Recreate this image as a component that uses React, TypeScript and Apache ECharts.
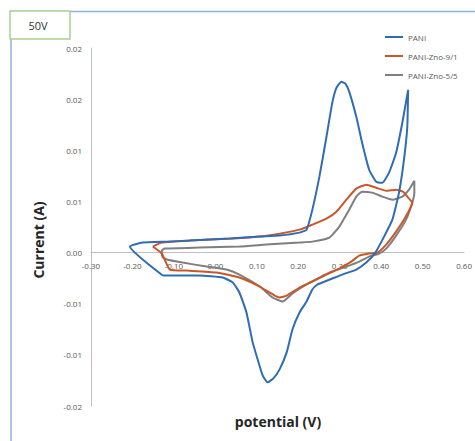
import React, { useEffect, useRef } from "react";
import * as echarts from "echarts";

const seriesNames = ["PANI", "PANI-Zno-9/1", "PANI-Zno-5/5"];
const seriesColors = ["#2e6db4", "#c8582a", "#7f7f7f"];

const paniPotential = [
  -0.127, -0.206, -0.175, -0.117, -0.062, 0.034, 0.107, 0.155, 0.203, 0.22, 0.234, 0.251, 0.268, 0.282, 0.292,
  0.304, 0.314, 0.323, 0.34, 0.354, 0.371, 0.388, 0.403, 0.419, 0.436, 0.451, 0.465,
  0.463, 0.455, 0.443, 0.427, 0.407, 0.386, 0.364, 0.34, 0.306, 0.282, 0.258, 0.246, 0.234, 0.22, 0.203, 0.186,
  0.172, 0.155, 0.14, 0.126, 0.114, 0.102, 0.09, 0.075, 0.058, 0.042, 0.018, -0.038, -0.127,
];
const paniCurrent = [
  -0.00224, 0.00059, 0.00098, 0.00107, 0.00117, 0.00137, 0.00156, 0.00166, 0.00195, 0.00224, 0.0042, 0.00742,
  0.01132, 0.01464, 0.0161, 0.01669, 0.0165, 0.01571, 0.01327, 0.01074, 0.0081, 0.00693, 0.00683, 0.00781,
  0.00976, 0.01269, 0.01591,
  0.0123, 0.00908, 0.00586, 0.00322, 0.00156, 0.0, -0.00098, -0.00166, -0.00215, -0.00254, -0.00293, -0.00312,
  -0.00361, -0.00478, -0.00586, -0.00752, -0.00976, -0.01142, -0.0123, -0.01269, -0.012, -0.01044, -0.00878,
  -0.00586, -0.0039, -0.00293, -0.00244, -0.00224, -0.00224,
];

const zno91Potential = [
  -0.151, -0.129, -0.062, 0.042, 0.107, 0.155, 0.203, 0.234, 0.268, 0.292, 0.316, 0.34, 0.364, 0.388, 0.412,
  0.436, 0.453, 0.465, 0.475,
  0.458, 0.436, 0.412, 0.391, 0.371, 0.347, 0.328, 0.299, 0.268, 0.234, 0.203, 0.172, 0.155, 0.143, 0.107,
  0.058, 0.003, -0.069, -0.11, -0.129, -0.151,
];
const zno91Current = [
  0.00059, 0.00098, 0.00117, 0.00137, 0.00156, 0.00185, 0.00224, 0.00273, 0.00332, 0.004, 0.00517, 0.00625,
  0.00664, 0.00634, 0.00605, 0.00615, 0.00595, 0.00537, 0.00488,
  0.00342, 0.00205, 0.00078, 0.0, -0.0001, -0.0003, -0.00088, -0.00156, -0.00215, -0.00283, -0.00342, -0.0042,
  -0.00439, -0.0042, -0.00332, -0.00244, -0.00195, -0.00176, -0.00166, -0.0001, 0.00059,
];

const zno55Potential = [
  -0.129, -0.129, -0.122, -0.038, 0.058, 0.123, 0.203, 0.234, 0.275, 0.299, 0.323, 0.34, 0.354, 0.378, 0.403,
  0.427, 0.451, 0.467, 0.48,
  0.48, 0.475, 0.46, 0.436, 0.412, 0.395, 0.371, 0.347, 0.316, 0.282, 0.251, 0.22, 0.186, 0.162, 0.138, 0.107,
  0.058, 0.027, -0.021, -0.079, -0.117, -0.129,
];
const zno55Current = [
  -0.00039, 0.0002, 0.00039, 0.00049, 0.00059, 0.00078, 0.00098, 0.00107, 0.00146, 0.00254, 0.0042, 0.00547,
  0.00595, 0.00586, 0.00547, 0.00517, 0.00547, 0.00615, 0.00703,
  0.00586, 0.00488, 0.00322, 0.00166, 0.00039, -0.0001, -0.00039, -0.00088, -0.00137, -0.00185, -0.00244,
  -0.00312, -0.004, -0.00478, -0.00439, -0.00332, -0.00215, -0.00166, -0.00137, -0.00098, -0.00068, -0.00039,
];

const potentials = [paniPotential, zno91Potential, zno55Potential];
const currents = [paniCurrent, zno91Current, zno55Current];

const FONT = "'Open Sans', 'Noto Sans', sans-serif";

const Y_MIN = -0.015;
const Y_MAX = 0.02;
const GRID_TOP = 48;
const GRID_BOTTOM = 35;
const CHART_H = 441;

function fmtY(v: number): string {
  if (Math.abs(v) < 1e-9) return "0.00";
  const r = (Math.sign(v) * Math.round(Math.abs(v) * 100 + 1e-9)) / 100;
  return r.toFixed(2);
}
function fmtX(v: number): string {
  if (Math.abs(v) < 1e-9) return "0.00";
  return v.toFixed(2);
}

export default function App() {
  const ref = useRef<HTMLDivElement>(null);
  useEffect(() => {
    if (!ref.current) return;
    const chart = echarts.init(ref.current, undefined, { renderer: "svg" });
    const gridH = CHART_H - GRID_TOP - GRID_BOTTOM;
    const zeroOffset = (gridH * (0 - Y_MIN)) / (Y_MAX - Y_MIN);
    const legendTops = [28, 47, 66];
    chart.setOption({
      animation: false,
      backgroundColor: "#ffffff",
      grid: { left: 91, right: 10, top: GRID_TOP, bottom: GRID_BOTTOM },
      xAxis: {
        type: "value",
        min: -0.3,
        max: 0.6,
        interval: 0.1,
        position: "bottom",
        offset: -zeroOffset,
        axisLine: { onZero: false, lineStyle: { color: "#bfbfbf", width: 1 } },
        axisTick: { show: false },
        splitLine: { show: false },
        axisLabel: { formatter: fmtX, color: "#595959", fontSize: 8, fontFamily: FONT, margin: 9 },
      },
      yAxis: {
        type: "value",
        min: Y_MIN,
        max: Y_MAX,
        interval: 0.005,
        axisLine: { show: true, onZero: false, lineStyle: { color: "#bfbfbf", width: 1 } },
        axisTick: { show: false },
        splitLine: { show: false },
        axisLabel: { formatter: fmtY, color: "#595959", fontSize: 8, fontFamily: FONT, margin: 9 },
      },
      legend: seriesNames.map((n, k) => ({
        data: [n],
        left: 380,
        top: legendTops[k],
        icon: "rect",
        itemWidth: 18,
        itemHeight: 2,
        textStyle: { color: "#595959", fontSize: 8, fontFamily: FONT },
      })),
      series: seriesNames.map((n, k) => ({
        name: n,
        type: "line",
        data: potentials[k].map((p, j) => [p, currents[k][j]]),
        showSymbol: false,
        smooth: 0.15,
        lineStyle: { color: seriesColors[k], width: 2 },
        itemStyle: { color: seriesColors[k] },
        z: 3 - k,
      })),
      graphic: [
        { type: "line", shape: { x1: 11, y1: 11.5, x2: 11, y2: 441 }, style: { stroke: "#8db3dd", lineWidth: 1.5 } },
        { type: "line", shape: { x1: 10, y1: 11.5, x2: 475, y2: 11.5 }, style: { stroke: "#8db3dd", lineWidth: 1.5 } },
        {
          type: "rect",
          shape: { x: 10, y: 11, width: 60, height: 28 },
          style: { fill: "#ffffff", stroke: "#a9d18e", lineWidth: 1.5 },
        },
        {
          type: "text",
          x: 38,
          y: 25,
          style: { text: "50V", fontSize: 11, fontFamily: FONT, fill: "#333333", align: "center", verticalAlign: "middle" },
        },
        {
          type: "text",
          x: 38,
          y: 240,
          rotation: Math.PI / 2,
          style: {
            text: "Current (A)",
            fontSize: 14,
            fontWeight: "bold",
            fontFamily: FONT,
            fill: "#262626",
            align: "center",
            verticalAlign: "middle",
          },
        },
        {
          type: "text",
          x: 278,
          y: 421,
          style: {
            text: "potential (V)",
            fontSize: 14,
            fontWeight: "bold",
            fontFamily: FONT,
            fill: "#262626",
            align: "center",
            verticalAlign: "middle",
          },
        },
      ],
    });
    return () => chart.dispose();
  }, []);
  return <div ref={ref} style={{ position: "fixed", left: 0, top: 0, width: 475, height: 441 }} />;
}
